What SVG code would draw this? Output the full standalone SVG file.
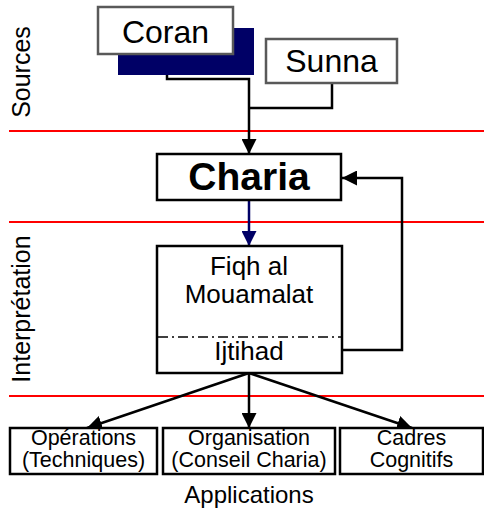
<svg xmlns="http://www.w3.org/2000/svg" width="484" height="510" viewBox="0 0 484 510">
<style>
text{font-family:"Liberation Sans",Arial,sans-serif;fill:#000;text-anchor:middle}
.src{fill:#fff;stroke:#595959;stroke-width:2.5}
.box{fill:#fff;stroke:#000;stroke-width:2.5}
.sep{stroke:#ff0000;stroke-width:2.2}
.con{fill:none;stroke:#000;stroke-width:2.5}
.side{font-size:25px}
.app{font-size:21.5px}
</style>
<defs>
<marker id="ah" viewBox="0 0 10 10" refX="10" refY="5" markerWidth="6" markerHeight="6" orient="auto" markerUnits="strokeWidth">
<path d="M0,0 L10,5 L0,10 z" fill="#000"/>
</marker>
<marker id="ahn" viewBox="0 0 10 10" refX="10" refY="5" markerWidth="6" markerHeight="6" orient="auto" markerUnits="strokeWidth">
<path d="M0,0 L10,5 L0,10 z" fill="#000066"/>
</marker>
</defs>
<g id="separators">
<line class="sep" x1="9" y1="131" x2="484" y2="131"/>
<line class="sep" x1="9" y1="222" x2="484" y2="222"/>
<line class="sep" x1="9" y1="396" x2="484" y2="396"/>
</g>
<g id="labels">
<text class="side" transform="translate(30,72) rotate(-90)">Sources</text>
<text class="side" transform="translate(30,309) rotate(-90)">Interprétation</text>
<text x="249" y="503" style="font-size:24px">Applications</text>
</g>
<g id="connectors">
<polyline class="con" points="167,54 167,79 249,79 249,154" marker-end="url(#ah)"/>
<polyline class="con" points="332,83 332,108 249,108"/>
<line x1="249" y1="200" x2="249" y2="246" stroke="#000066" stroke-width="2.5" marker-end="url(#ahn)"/>
<polyline class="con" points="342,350 402,350 402,178 342,178" marker-end="url(#ah)"/>
<line class="con" x1="249" y1="373" x2="87" y2="428" marker-end="url(#ah)"/>
<line class="con" x1="249" y1="373" x2="249" y2="428" marker-end="url(#ah)"/>
<line class="con" x1="249" y1="373" x2="412" y2="428" marker-end="url(#ah)"/>
</g>
<g id="coran">
<rect x="118" y="28" width="136" height="47" fill="#000066"/>
<rect class="src" x="98" y="7" width="135" height="47"/>
<text x="165.5" y="43" style="font-size:32px">Coran</text>
</g>
<g id="sunna">
<rect class="src" x="266" y="39" width="131" height="44"/>
<text x="331.5" y="72" style="font-size:32px">Sunna</text>
</g>
<g id="charia">
<rect class="box" x="157" y="154" width="184" height="46"/>
<text x="249" y="190" style="font-size:39px;font-weight:bold">Charia</text>
</g>
<g id="fiqh">
<rect class="box" x="157" y="246" width="185" height="127"/>
<line x1="158" y1="337" x2="341" y2="337" stroke="#000" stroke-width="1.5" stroke-dasharray="10 4 2 4"/>
<text x="249" y="275" style="font-size:26px">Fiqh al</text>
<text x="249" y="303" style="font-size:26px">Mouamalat</text>
<text x="249" y="360" style="font-size:26px">Ijtihad</text>
</g>
<g id="operations">
<rect class="box" x="10" y="428" width="147" height="46"/>
<text class="app" x="83.5" y="445">Opérations</text>
<text class="app" x="83.5" y="467">(Techniques)</text>
</g>
<g id="organisation">
<rect class="box" x="163" y="428" width="172" height="46"/>
<text class="app" x="249" y="445">Organisation</text>
<text class="app" x="249" y="467">(Conseil Charia)</text>
</g>
<g id="cadres">
<rect class="box" x="340" y="428" width="143" height="46"/>
<text class="app" x="411.5" y="445">Cadres</text>
<text class="app" x="411.5" y="467">Cognitifs</text>
</g>
</svg>
